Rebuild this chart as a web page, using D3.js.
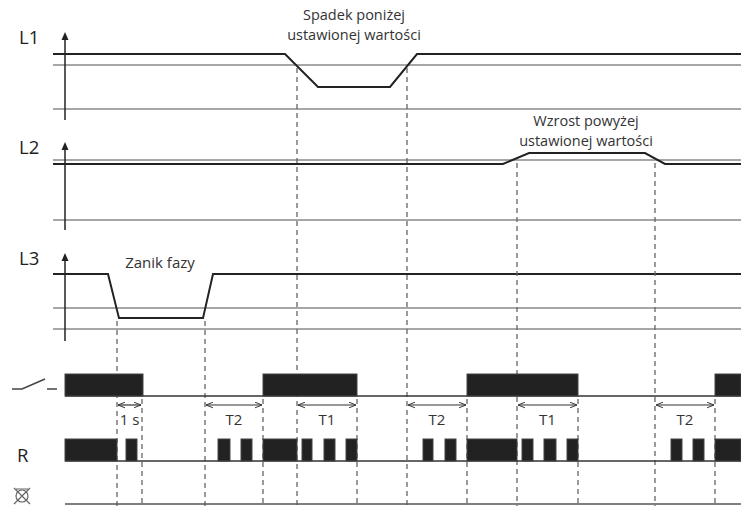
<!doctype html>
<html lang="en">
<head>
  <meta charset="utf-8">
  <title>Kontrola faz - przebiegi</title>
</head>
<body style="overflow: hidden; margin: 0; background: #fff;">
  <script src="https://cdnjs.cloudflare.com/ajax/libs/d3/7.8.5/d3.min.js"></script>
  <script type="text/javascript">

    // time axis: 0 = vertical axis of each phase panel
    var phaseNames = ["L1", "L2", "L3"];
    // signal [time, % of panel height]
    var l1Signal = [[-12, 75], [220, 75], [253, 37.5], [325, 37.5], [352, 75], [676, 75]];
    var l2Signal = [[-12, 75], [438, 75], [464, 87.5], [580, 87.5], [600, 75], [676, 75]];
    var l3Signal = [[-12, 76], [43, 76], [54, 26], [138, 26], [148, 76], [676, 76]];
    var l1Thresholds = [62.5, 12.5];
    var l2Thresholds = [79.5, 11.4];
    var l3Thresholds = [37.5, 13.6];

    var panelNotes = [["Spadek poniżej", "ustawionej wartości"], ["Wzrost powyżej", "ustawionej wartości"], ["Zanik fazy"]];
    var noteTimes = [289, 521, 95];

    // relay contact closed intervals
    var relayOn = [[0, 78], [198, 292], [402, 513], [650, 676]];
    // LED "R" on intervals
    var ledOn = [[0, 52], [61, 72], [153, 165], [176, 187], [198, 232], [237, 247], [259, 270], [281, 292],
      [358, 368], [380, 391], [402, 452], [457, 468], [479, 491], [502, 513], [606, 617], [628, 639], [650, 676]];

    // dashed markers: crossing points (start at a panel level) and relay edges
    var markerTimes = [52, 77, 140, 198, 232, 292, 342, 402, 452, 513, 590, 650];
    var markerFrom = ["L3low", "relay", "L3low", "relay", "L1th", "relay", "L1th", "relay", "L2th", "relay", "L2th", "relay"];

    var spans = [[52, 77], [140, 198], [232, 292], [342, 402], [452, 513], [590, 650]];
    var spanLabels = ["1 s", "T2", "T1", "T2", "T1", "T2"];

    var config = {
      width: 741,
      height: 506,
      axisX: 65,
      panelBottom: [120, 230, 341],
      panelHeight: 88,
      relayTop: 374,
      relayBottom: 396,
      ledTop: 439,
      ledBottom: 461,
      spanY: 405,
      bottomY: 504
    };

    var signals = [l1Signal, l2Signal, l3Signal];
    var thresholds = [l1Thresholds, l2Thresholds, l3Thresholds];

    var svg = d3.select("body").append("svg")
      .attr("width", config.width)
      .attr("height", config.height)
      .style("font-family", "'Open Sans', sans-serif");

    var defs = svg.append("defs");
    defs.append("marker")
      .attr("id", "arr")
      .attr("viewBox", "0 0 10 10")
      .attr("refX", 10).attr("refY", 5)
      .attr("markerWidth", 7).attr("markerHeight", 7)
      .attr("markerUnits", "userSpaceOnUse")
      .attr("orient", "auto-start-reverse")
      .append("path")
      .attr("d", "M0,1 L10,5 L0,9")
      .attr("fill", "none")
      .attr("stroke", "#333")
      .attr("stroke-width", 1.4);

    var xScale = d3.scaleLinear()
      .domain([-12, 676])
      .range([config.axisX - 12, config.width]);

    var yScale = d3.scaleLinear()
      .domain([0, 100])
      .range([0, -config.panelHeight]);

    var line = d3.line()
      .x(d => xScale(d[0]))
      .y(d => yScale(d[1]));

    // phase panels
    phaseNames.forEach((name, i) => {
      let g = svg.append("g")
        .attr("transform", "translate(0," + config.panelBottom[i] + ")");

      thresholds[i].forEach(v => {
        g.append("line")
          .attr("x1", xScale(-12)).attr("x2", xScale(676))
          .attr("y1", yScale(v)).attr("y2", yScale(v))
          .attr("stroke", "#8a8a8a")
          .attr("stroke-width", 1.6);
      });

      g.append("path")
        .datum(signals[i])
        .attr("d", line)
        .attr("fill", "none")
        .attr("stroke", "#222")
        .attr("stroke-width", 2);

      // vertical axis with arrow head
      g.append("line")
        .attr("x1", xScale(0)).attr("x2", xScale(0))
        .attr("y1", 0).attr("y2", yScale(100) + 6)
        .attr("stroke", "#222")
        .attr("stroke-width", 1.5);
      g.append("path")
        .attr("d", d3.line()([[xScale(0) - 3.5, yScale(100) + 8], [xScale(0), yScale(100)], [xScale(0) + 3.5, yScale(100) + 8]]) + "Z")
        .attr("fill", "#222");

      g.append("text")
        .attr("x", 19)
        .attr("y", yScale(100) + 12)
        .attr("font-size", 18.5)
        .attr("fill", "#222")
        .text(name);
    });

    // notes above signals
    svg.append("g").selectAll("text.l1")
      .data(panelNotes[0]).join("text")
      .attr("x", xScale(noteTimes[0])).attr("y", (d, j) => 20 + j * 20)
      .attr("text-anchor", "middle").attr("font-size", 14.5).attr("fill", "#333")
      .text(d => d);
    svg.append("g").selectAll("text.l2")
      .data(panelNotes[1]).join("text")
      .attr("x", xScale(noteTimes[1])).attr("y", (d, j) => 126 + j * 20)
      .attr("text-anchor", "middle").attr("font-size", 14.5).attr("fill", "#333")
      .text(d => d);
    svg.append("text")
      .attr("x", xScale(noteTimes[2])).attr("y", 268)
      .attr("text-anchor", "middle").attr("font-size", 15).attr("fill", "#333")
      .text(panelNotes[2][0]);

    // dashed markers
    var startY = {
      L1th: config.panelBottom[0] + yScale(l1Thresholds[0]),
      L2th: config.panelBottom[1] + yScale(l2Thresholds[0]),
      L3low: config.panelBottom[2] + yScale(l3Signal[2][1]),
      relay: config.relayBottom
    };
    svg.append("g").selectAll("line")
      .data(markerTimes).join("line")
      .attr("x1", d => xScale(d)).attr("x2", d => xScale(d))
      .attr("y1", (d, i) => startY[markerFrom[i]] + 3)
      .attr("y2", config.height)
      .attr("stroke", "#666")
      .attr("stroke-width", 1.3)
      .attr("stroke-dasharray", "5,4");

    // relay contact row
    var relay = svg.append("g");
    relay.append("line")
      .attr("x1", xScale(0)).attr("x2", xScale(676))
      .attr("y1", config.relayBottom).attr("y2", config.relayBottom)
      .attr("stroke", "#333").attr("stroke-width", 1.5);
    relay.selectAll("rect")
      .data(relayOn).join("rect")
      .attr("x", d => xScale(d[0]))
      .attr("y", config.relayTop)
      .attr("width", d => xScale(d[1]) - xScale(d[0]))
      .attr("height", config.relayBottom - config.relayTop)
      .attr("fill", "#222")
      .attr("stroke", "#444");
    // contact symbol
    relay.append("path")
      .attr("d", "M12,389 L22,389 L45,379 M47,389 L57,389")
      .attr("fill", "none").attr("stroke", "#444").attr("stroke-width", 1.5);

    // time spans
    var spanG = svg.append("g");
    spanG.selectAll("line")
      .data(spans).join("line")
      .attr("x1", d => xScale(d[0]) + 1).attr("x2", d => xScale(d[1]) - 1)
      .attr("y1", config.spanY).attr("y2", config.spanY)
      .attr("stroke", "#333").attr("stroke-width", 1.2)
      .attr("marker-start", "url(#arr)")
      .attr("marker-end", "url(#arr)");
    spanG.selectAll("text")
      .data(spans).join("text")
      .attr("x", d => (xScale(d[0]) + xScale(d[1])) / 2)
      .attr("y", 425)
      .attr("text-anchor", "middle")
      .attr("font-size", 15)
      .attr("fill", "#333")
      .text((d, i) => spanLabels[i]);

    // LED R row
    var led = svg.append("g");
    led.append("line")
      .attr("x1", xScale(0)).attr("x2", xScale(676))
      .attr("y1", config.ledBottom).attr("y2", config.ledBottom)
      .attr("stroke", "#333").attr("stroke-width", 1.5);
    led.selectAll("rect")
      .data(ledOn).join("rect")
      .attr("x", d => xScale(d[0]))
      .attr("y", config.ledTop)
      .attr("width", d => xScale(d[1]) - xScale(d[0]))
      .attr("height", config.ledBottom - config.ledTop)
      .attr("fill", "#222")
      .attr("stroke", "#444");
    led.append("text")
      .attr("x", 17).attr("y", 462)
      .attr("font-size", 18.5).attr("fill", "#222")
      .text("R");

    // lamp row
    var lamp = svg.append("g").attr("stroke", "#666").attr("stroke-width", 1.2).attr("fill", "none");
    lamp.append("circle").attr("cx", 22).attr("cy", 496).attr("r", 6);
    lamp.append("path").attr("d", "M14,488 L30,504 M30,488 L14,504 M16,489 L28,489");
    svg.append("line")
      .attr("x1", xScale(0)).attr("x2", xScale(676))
      .attr("y1", config.bottomY).attr("y2", config.bottomY)
      .attr("stroke", "#555").attr("stroke-width", 1.5);

  </script>
</body>
</html>
